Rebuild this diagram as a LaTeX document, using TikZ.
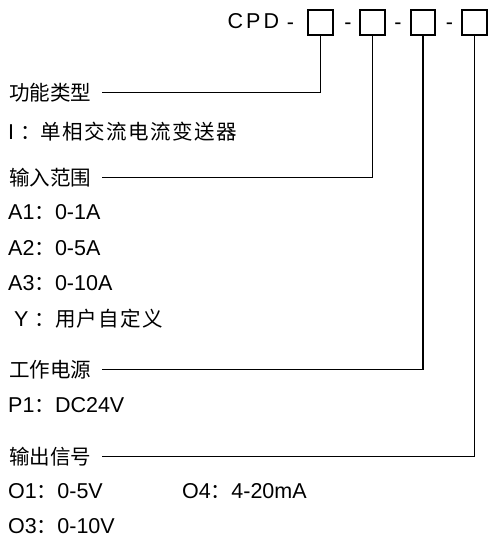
\documentclass[tikz,border=0pt]{standalone}
\usepackage{fontspec}
\setmainfont{Liberation Sans}
\newfontfamily\cjk[Scale=0.955]{Noto Sans CJK SC}
\newfontfamily\cjkwide[Scale=0.955,LetterSpace=7]{Noto Sans CJK SC}
\newcommand{\zh}[1]{{\cjk #1}}
\newcommand{\zhw}[1]{{\cjkwide #1}}
\usetikzlibrary{positioning}

\begin{document}
\begin{tikzpicture}[x=1pt,y=-1pt,
    every node/.style={font=\fontsize{21.5}{25}\selectfont,inner sep=0pt},
    txt/.style={anchor=base west},
    slot/.style={draw,line width=1.8pt,minimum size=24.5pt},
    lead/.style={line width=1.2pt}]
  \useasboundingbox (0,0) rectangle (500,557);

  % model code: CPD - [] - [] - [] - []
  \node[txt] (cpd) at (227.5,28) {C\kern3pt P\kern3pt D};
  \foreach \n/\x in {1/320.5,2/372.5,3/423,4/474.5} {
    \node[slot] (b\n) at (\x,22.5) {};
  }
  \foreach \n/\x in {1/290.5,2/348,3/398,4/449.5} {
    \node[anchor=base] (d\n) at (\x,29) {-};
  }

  % fields
  \node[txt] (hfunc) at (9,100) {\zh{功能类型}};
  \node[txt] (tI) at (8,139.5) {I~\zh{：}\zhw{单相交流电流变送器}};

  \node[txt] (hin) at (9,185) {\zh{输入范围}};
  \node[txt] (tA1) at (8,219) {A1\zh{：}0-1A};
  \node[txt] (tA2) at (8,255) {A2\zh{：}0-5A};
  \node[txt] (tA3) at (8,290) {A3\zh{：}0-10A};
  \node[txt] (tY) at (8,326) {~Y~\zh{：}\zhw{用户自定义}};

  \node[txt] (hpow) at (9,377) {\zh{工作电源}};
  \node[txt] (tP1) at (8,412) {P1\zh{：}DC24V};

  \node[txt] (hout) at (9,464) {\zh{输出信号}};
  \node[txt] (tO1) at (8,498) {O1\zh{：}0-5V};
  \node[txt] (tO4) at (182,498) {O4\zh{：}4-20mA};
  \node[txt] (tO3) at (8,533) {O3\zh{：}0-10V};

  % leaders from each box to its field
  \draw[lead] (b1.south) |- ([xshift=10pt]hfunc.east);
  \draw[lead] (b2.south) |- ([xshift=10pt]hin.east);
  \draw[lead] (b3.south) |- ([xshift=10pt]hpow.east);
  \draw[lead] (b4.south) |- ([xshift=10pt]hout.east);
\end{tikzpicture}
\end{document}
